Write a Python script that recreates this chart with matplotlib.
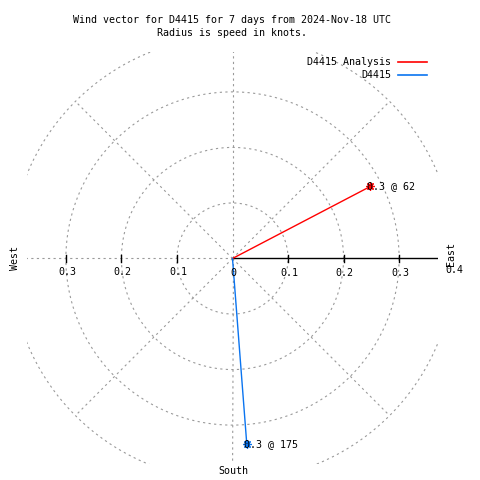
import numpy as np
import matplotlib
matplotlib.use('Agg')
import matplotlib.pyplot as plt
from matplotlib.transforms import offset_copy

# --- DATA ---
station = 'D4415'
series_names = ['D4415 Analysis', 'D4415']
series_colors = ['#ff0000', '#0a74f0']
speeds = [0.28, 0.335]          # knots
directions = [62.4, 175.6]      # degrees, clockwise from north
ring_radii = [0.1, 0.2, 0.3, 0.4]
tick_values = [0.1, 0.2, 0.3]
spoke_angles = [45, 90, 135, 180, 225, 270, 315]   # math angles, deg

W = H = 480
FS = 7.2
FONT = 'DejaVu Sans Mono'
GRID = '#9a9a9a'
DASH = (0, (2, 3))

def px(x, y):
    # pixel position from top-left -> figure fraction
    return x / W, 1 - y / H

fig = plt.figure(figsize=(4.8, 4.8), dpi=100)
# plot box: x 27..438, y 52..464 (pixels, from top)
ax = fig.add_axes([27 / W, 16 / H, 411 / W, 412 / H])
ax.set_xlim(-0.37, 0.37)
ax.set_ylim(-0.37, 0.3718)
ax.axis('off')

# --- polar grid ---
t = np.linspace(0, 2 * np.pi, 400)
for r in ring_radii:
    ax.plot(r * np.cos(t), r * np.sin(t), color=GRID, lw=0.8, ls=DASH)
for a in spoke_angles:
    ar = np.radians(a)
    ax.plot([0, 0.4 * np.cos(ar)], [0, 0.4 * np.sin(ar)], color=GRID, lw=0.8, ls=DASH)

# east axis (solid) and ticks
ax.plot([0, 0.37], [0, 0], color='black', lw=1.0)
for v in tick_values:
    for s in (1, -1):
        ax.plot([s * v, s * v], [-0.006, 0.006], color='black', lw=1.0)

# tick labels
for v in tick_values:
    ax.text(-v + 0.002, -0.025, f'{v:.1f}', ha='center', va='center',
            family=FONT, fontsize=FS)
    ax.text(v + 0.002, -0.026, f'{v:.1f}', ha='center', va='center',
            family=FONT, fontsize=FS)
ax.text(0.002, -0.026, '0', ha='center', va='center', family=FONT, fontsize=FS)

# --- wind vectors ---
for name, col, spd, d in zip(series_names, series_colors, speeds, directions):
    rad = np.radians(d)
    x, y = spd * np.sin(rad), spd * np.cos(rad)
    ax.plot([0, x], [0, y], color=col, lw=1.0)
    ax.plot([x], [y], marker=(8, 2, 0), color=col, ms=6, mew=0.9)
    tr = offset_copy(ax.transData, fig=fig, x=-3, y=0, units='dots')
    ax.text(x, y, f'{spd:.1f} @ {int(d)}', transform=tr, ha='left', va='center',
            family=FONT, fontsize=FS)

# --- compass labels ---
fig.text(*px(451, 254), 'East', rotation=90, ha='center', va='center',
         family=FONT, fontsize=FS)
fig.text(*px(454, 270), '0.4', ha='center', va='center', family=FONT, fontsize=FS)
fig.text(*px(15, 258), 'West', rotation=90, ha='center', va='center',
         family=FONT, fontsize=FS)
fig.text(*px(233, 471), 'South', ha='center', va='center', family=FONT, fontsize=FS)

# --- title ---
fig.text(*px(232, 20), f'Wind vector for {station} for 7 days from 2024-Nov-18 UTC',
         ha='center', va='center', family=FONT, fontsize=FS)
fig.text(*px(232, 33), 'Radius is speed in knots.', ha='center', va='center',
         family=FONT, fontsize=FS)

# --- legend ---
for i, (name, col) in enumerate(zip(series_names, series_colors)):
    yy = 62 + 13 * i
    fig.text(*px(391, yy), name, ha='right', va='center', family=FONT, fontsize=FS)
    x0, y0 = px(398, yy)
    x1, _ = px(427, yy)
    fig.add_artist(plt.Line2D([x0, x1], [y0, y0], color=col, lw=1.2,
                              transform=fig.transFigure))

fig.savefig('out.png', dpi=100)
